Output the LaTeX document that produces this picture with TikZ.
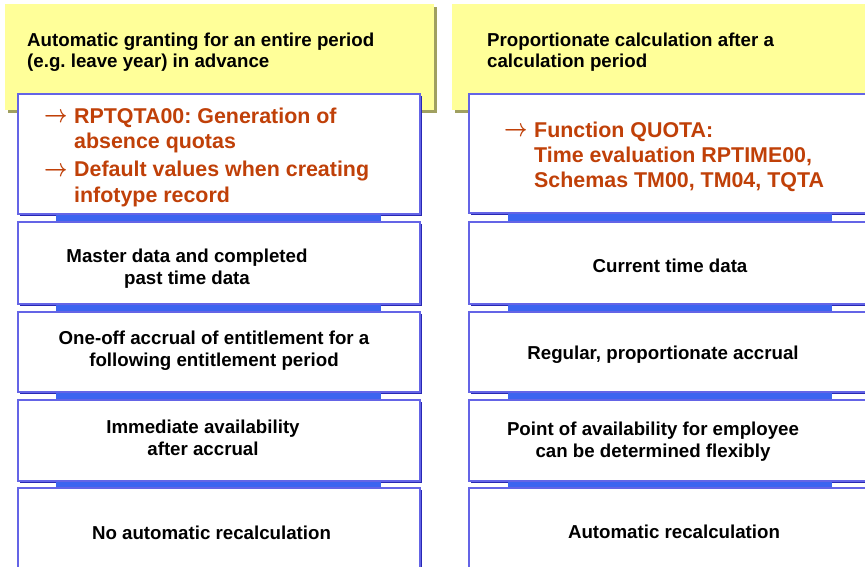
\documentclass[tikz,border=0pt]{standalone}
\usepackage{fontspec}
\usepackage{graphicx}
\setmainfont{Liberation Sans}
\usetikzlibrary{shadows,calc}
\frenchspacing
\definecolor{hdryellow}{RGB}{255,255,153}
\definecolor{hdrshadow}{RGB}{160,160,96}
\definecolor{boxedge}{RGB}{100,100,230}
\definecolor{boxdark}{RGB}{40,40,180}
\definecolor{barblue}{RGB}{60,100,240}
\definecolor{redtext}{RGB}{192,64,8}
\newcommand{\bodyfont}{\fontsize{18.7}{22}\selectfont\bfseries}
\newcommand{\redfont}{\fontsize{21.4}{25.2}\selectfont\bfseries}
\newcommand{\hdrfont}{\fontsize{18.7}{21}\selectfont\bfseries}
\newcommand{\arr}{\makebox[30pt][l]{\raisebox{0.5pt}{\scalebox{0.98}[1.2]{\boldmath$\rightarrow$}}}}
\tikzset{
  header/.style={fill=hdryellow, draw=none, inner sep=0pt,
    drop shadow={shadow xshift=2.5pt, shadow yshift=-2.5pt, fill=hdrshadow, opacity=1}},
  infobox/.style={fill=white, draw=boxedge, line width=1.1pt, inner sep=0pt,
    drop shadow={shadow xshift=2pt, shadow yshift=-2pt, fill=boxdark, opacity=1}},
  bodytext/.style={inner sep=0pt, font=\bodyfont, text=black},
  hdrtext/.style={inner sep=0pt, font=\hdrfont, text=black, anchor=north west},
  redtxt/.style={inner sep=0pt, font=\redfont, text=redtext, anchor=north west},
  bar/.style={fill=barblue, draw=none}
}
\begin{document}
\begin{tikzpicture}[x=1pt,y=-1pt]
\useasboundingbox (0,0) rectangle (865,566);
\clip (0,0) rectangle (865,566);
\fill[white] (0,0) rectangle (865,566);
% headers
\node[header, minimum width=429pt, minimum height=106pt] (HL) at (219.5,57) {};
\node[header, minimum width=430pt, minimum height=106pt] (HR) at (667,57) {};
% left boxes
\node[infobox, minimum width=402pt, minimum height=120pt] (L1) at (219,154) {};
\node[infobox, minimum width=402pt, minimum height=82pt] (L2) at (219,263) {};
\node[infobox, minimum width=402pt, minimum height=80pt] (L3) at (219,352) {};
\node[infobox, minimum width=402pt, minimum height=81pt] (L4) at (219,440.5) {};
\node[infobox, minimum width=402pt, minimum height=90pt] (L5) at (219,533) {};
% right boxes
\node[infobox, minimum width=420pt, minimum height=119pt] (R1) at (679,153.5) {};
\node[infobox, minimum width=420pt, minimum height=82pt] (R2) at (679,263) {};
\node[infobox, minimum width=420pt, minimum height=80pt] (R3) at (679,352) {};
\node[infobox, minimum width=420pt, minimum height=81pt] (R4) at (679,440.5) {};
\node[infobox, minimum width=420pt, minimum height=90pt] (R5) at (679,533) {};
% connector bars
\foreach \a/\b in {L1/L2,L2/L3,L3/L4,L4/L5}{
  \fill[bar] ($(\a.south west)+(39,0.6)$) rectangle ($(\b.north west)+(364,-0.6)$);
}
\foreach \a/\b in {R1/R2,R2/R3,R3/R4,R4/R5}{
  \fill[bar] ($(\a.south west)+(40,0.6)$) rectangle ($(\b.north west)+(364,-0.6)$);
}
% header texts
\node[hdrtext] (HLt) at (27,31.3) {\begin{tabular}{@{}l@{}}Automatic granting for an entire period\\(e.g. leave year) in advance\end{tabular}};
\node[hdrtext] (HRt) at (487,31.3) {\begin{tabular}{@{}l@{}}Proportionate calculation after a\\calculation period\end{tabular}};
% red texts
\node[redtxt] (L1t) at (44,105.2) {\begin{tabular}{@{}l@{}l@{}}\arr & RPTQTA00: Generation of\\ & absence quotas\\[3.5pt]\arr & Default values when creating\\ & infotype record\end{tabular}};
\node[redtxt] (R1t) at (504,119.2) {\begin{tabular}{@{}l@{}l@{}}\arr & Function QUOTA:\\ & Time evaluation RPTIME00,\\ & Schemas TM00, TM04, TQTA\end{tabular}};
% body texts
\node[bodytext] (L2t) at (187,268.8) {\begin{tabular}{@{}c@{}}Master data and completed\\past time data\end{tabular}};
\node[bodytext] (L3t) at (214,351.1) {\begin{tabular}{@{}c@{}}One-off accrual of entitlement for a\\following entitlement period\end{tabular}};
\node[bodytext] (L4t) at (203,440) {\begin{tabular}{@{}c@{}}Immediate availability\\after accrual\end{tabular}};
\node[bodytext] (L5t) at (211.5,532.6) {No automatic recalculation};
\node[bodytext] (R2t) at (670,265.6) {Current time data};
\node[bodytext] (R3t) at (663,354.6) {Regular, proportionate accrual};
\node[bodytext] (R4t) at (653,442) {\begin{tabular}{@{}c@{}}Point of availability for employee\\can be determined flexibly\end{tabular}};
\node[bodytext] (R5t) at (674,532.3) {Automatic recalculation};
\end{tikzpicture}
\end{document}
